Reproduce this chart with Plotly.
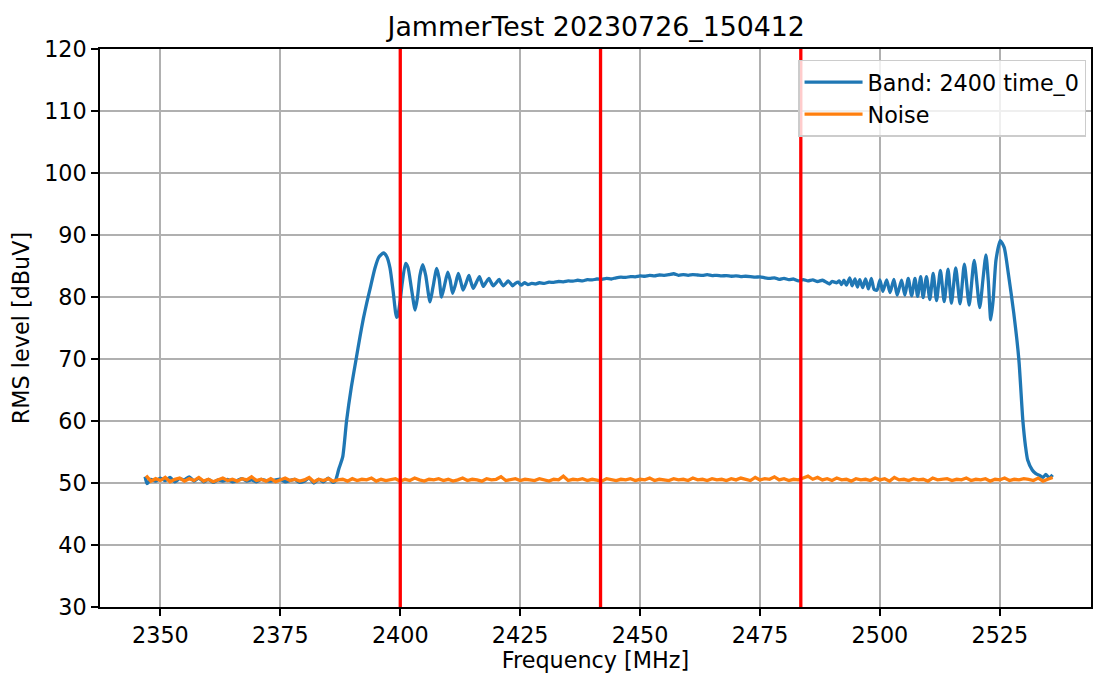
import numpy as np
import plotly.graph_objects as go

# ---------------- data ----------------
band_freq = [
    2346.8, 2347.2, 2348, 2349, 2350, 2351, 2352, 2353, 2354, 2355, 2356, 2357, 2358, 2359,
    2360, 2361, 2362, 2363, 2364, 2365, 2366, 2367, 2368, 2369, 2370, 2371, 2372, 2373, 2374,
    2375, 2376, 2377, 2378, 2379, 2380, 2381, 2382, 2383, 2384, 2385, 2386, 2386.5,
    2387.2, 2388.0, 2388.8, 2389.8, 2390.8, 2391.6, 2392.3, 2393.0, 2393.7, 2394.7, 2395.5,
    2396.5, 2397.2, 2397.85, 2398.5, 2399.0, 2399.25, 2399.5, 2400.0, 2400.4, 2401.1, 2401.6,
    2402.3, 2403.1, 2403.6, 2404.1, 2404.7, 2405.3, 2406.2, 2406.8, 2407.6, 2408.1, 2408.6,
    2409.2, 2409.9, 2410.4, 2410.9, 2411.5, 2412.1, 2412.6, 2413.1, 2413.7, 2414.3, 2414.7,
    2415.2, 2415.9, 2416.5, 2416.9, 2417.3, 2417.9, 2418.5, 2418.9, 2419.4, 2420.0, 2420.6,
    2421.0, 2421.5, 2422.0, 2422.5, 2423.0, 2423.4, 2424.0, 2424.6, 2425.2, 2425.9, 2426.6,
    2427.4, 2428.2, 2429, 2430, 2431, 2432, 2433, 2434, 2435, 2436, 2437, 2438, 2439, 2440,
    2441, 2442, 2443, 2444, 2445, 2446, 2447, 2448, 2449, 2450, 2451, 2452, 2453, 2454, 2455,
    2456, 2457, 2458, 2459, 2460, 2461, 2462, 2463, 2464, 2465, 2466, 2467, 2468, 2469, 2470,
    2471, 2472, 2473, 2474, 2475, 2476, 2477, 2478, 2479, 2480, 2481, 2482, 2483, 2484, 2485,
    2486, 2487, 2488, 2489, 2489.5, 2490, 2491, 2491.5, 2492, 2492.5, 2493, 2493.7, 2494.2,
    2494.8, 2495.3, 2495.8, 2496.4, 2497.0, 2497.6, 2498.2, 2498.8, 2499.4, 2500.0, 2500.6,
    2501.4, 2502.1, 2502.9, 2503.6, 2504.5, 2505.2, 2505.9, 2506.6, 2507.3, 2507.85, 2508.5,
    2509.0, 2509.7, 2510.4, 2511.1, 2511.8, 2512.6, 2513.4, 2514.2, 2514.9, 2515.8, 2516.7,
    2517.6, 2518.6, 2519.65, 2520.8, 2521.5, 2522.1, 2522.6, 2523.1, 2523.6, 2524.2, 2525.1,
    2525.9, 2526.8, 2527.9, 2528.95, 2529.8, 2530.35, 2530.8, 2531.75, 2532.5, 2533.3, 2534,
    2534.6, 2535.3, 2536,
]
band_level = [
    51.0, 49.9, 50.6, 50.3, 50.8, 50.4, 50.9, 50.2, 50.7, 50.5, 51.0, 50.3, 50.8, 50.2,
    50.6, 50.1, 50.5, 50.3, 50.6, 50.2, 50.4, 50.7, 50.3, 50.5, 50.2, 50.6, 50.4, 50.3, 50.5,
    50.6, 50.2, 50.4, 50.6, 50.1, 50.3, 50.8, 50.0, 50.6, 50.2, 50.8, 50.1, 50.4,
    52.3, 54.2, 60.0, 65.5, 70.0, 73.6, 76.5, 79.0, 81.3, 84.6, 86.4,
    87.1, 86.5, 84.7, 81.0, 77.6, 76.7, 77.0, 79.5, 82.2, 85.4, 84.8,
    81.5, 77.9, 80.0, 83.5, 85.2, 83.5, 79.2, 81.5, 84.6, 83.0, 80.0,
    81.8, 84.0, 82.7, 80.6, 82.0, 83.8, 82.5, 81.1, 82.2, 83.5, 82.5,
    81.4, 82.4, 83.3, 82.5, 81.7, 82.4, 83.0, 82.4, 81.8, 82.3, 82.85,
    82.3, 81.8, 82.2, 82.6, 82.2, 81.8, 82.2, 82.4, 81.9, 82.3, 82.0,
    82.2, 82.1, 82.3, 82.2, 82.4, 82.35, 82.5, 82.45, 82.6, 82.55, 82.7, 82.6, 82.8, 82.75,
    82.9, 82.85, 83.0, 82.9, 83.1, 83.2, 83.15, 83.3, 83.25, 83.4, 83.35, 83.5, 83.4, 83.55, 83.5,
    83.6, 83.75, 83.5, 83.6, 83.5, 83.6, 83.55, 83.5, 83.6, 83.45, 83.5, 83.4, 83.45, 83.35, 83.4,
    83.3, 83.35, 83.3, 83.2, 83.25, 83.1, 83.0, 83.1, 82.85, 83.0, 82.8, 82.9, 82.6, 82.8, 82.6,
    82.75, 82.5, 82.7, 82.3, 82.1, 82.5, 82.3, 82.6, 82.0, 82.7, 81.9, 83.1, 81.8,
    82.9, 81.6, 82.8, 81.5, 82.9, 81.3, 83.0, 81.2, 81.1, 82.75, 80.9,
    82.75, 80.7, 82.85, 80.3, 82.7, 80.3, 83.0, 80.2, 83.0, 80.1, 83.3,
    79.9, 83.3, 79.6, 83.8, 79.4, 84.3, 79.25, 84.5, 79.0, 84.7, 78.9,
    85.3, 78.7, 85.9, 78.3, 83.0, 86.8, 82.5, 76.3, 79.5, 86.0, 89.1,
    88.0, 83.6, 77.4, 70.0, 60.0, 55.9, 53.7, 52.1, 51.5, 51.2, 50.9,
    51.4, 50.8, 51.3,
]

noise_start_mhz = 2347
noise_step_mhz = 1
noise_level = [
    51.2, 50.3, 50.7, 50.4, 50.9, 50.2, 50.6, 50.8, 50.3, 50.7,
    50.4, 50.9, 50.3, 50.6, 50.2, 50.5, 50.8, 50.4, 50.6, 50.3,
    50.7, 50.5, 51.0, 50.4, 50.6, 50.3, 50.7, 50.2, 50.5, 50.8,
    50.4, 50.6, 50.3, 50.5, 50.9, 50.2, 50.6, 50.4, 50.7, 50.3,
    50.5, 50.6, 50.3, 50.7, 50.4, 50.6, 50.5, 50.8, 50.3, 50.6,
    50.4, 50.5, 50.7, 50.3, 50.6, 50.4, 50.8, 50.5, 50.3, 50.6,
    50.5, 50.7, 50.4, 50.6, 50.3, 50.5, 50.8, 50.4, 50.6, 50.5,
    50.3, 50.7, 50.5, 50.6, 51.0, 50.4, 50.5, 50.7, 50.4, 50.6,
    50.5, 50.4, 50.7, 50.5, 50.3, 50.6, 50.5, 51.1, 50.4, 50.6,
    50.5, 50.7, 50.4, 50.6, 50.5, 50.3, 50.7, 50.5, 50.4, 50.6,
    50.5, 50.7, 50.4, 50.6, 50.5, 50.8, 50.4, 50.6, 50.5, 50.4,
    50.7, 50.5, 50.6, 50.4, 50.8, 50.5, 50.6, 50.4, 50.7, 50.5,
    50.6, 50.4, 50.7, 50.5, 50.8, 50.6, 50.4, 50.9, 50.5, 50.7,
    50.6, 51.0, 50.5, 50.7, 50.4, 50.6, 50.5, 50.8, 51.1, 50.6,
    50.9, 50.5, 50.7, 50.4, 50.8, 50.5, 50.6, 50.3, 50.7, 50.5,
    50.6, 50.4, 50.8, 50.5, 50.7, 50.3, 50.9, 50.5, 50.6, 50.4,
    50.7, 50.5, 50.6, 50.3, 50.8, 50.5, 50.6, 50.7, 50.4, 50.6,
    50.5, 50.8, 50.4, 50.6, 50.5, 50.7, 50.3, 50.6, 50.5, 50.8,
    50.4, 50.6, 50.5, 50.7, 50.6, 50.4, 50.8, 50.3, 50.6, 50.9,
]
noise_freq = noise_start_mhz + noise_step_mhz * np.arange(len(noise_level))

marker_freqs = [2400.0, 2441.75, 2483.5]

x_ticks = [2350, 2375, 2400, 2425, 2450, 2475, 2500, 2525]
y_ticks = [30, 40, 50, 60, 70, 80, 90, 100, 110, 120]

title_text = "JammerTest 20230726_150412"
band_name = "Band: 2400 time_0"
noise_name = "Noise"
x_label = "Frequency [MHz]"
y_label = "RMS level [dBuV]"

# ---------------- figure ----------------
FONT = "DejaVu Sans"
fs = 22.3
lw = 3.3

fig = go.Figure()
fig.add_trace(go.Scatter(x=band_freq, y=band_level, mode="lines", name=band_name,
                         line=dict(color="#1f77b4", width=lw, shape="spline", smoothing=0.6)))
fig.add_trace(go.Scatter(x=noise_freq, y=noise_level, mode="lines", name=noise_name,
                         line=dict(color="#ff7f0e", width=lw)))

for f in marker_freqs:
    fig.add_shape(type="line", xref="x", yref="paper", x0=f, x1=f, y0=0, y1=1,
                  line=dict(color="red", width=lw), layer="above")

axis_common = dict(
    showline=True, linecolor="black", linewidth=1.7, mirror=True,
    ticks="outside", ticklen=7, tickwidth=1.7, tickcolor="black",
    showgrid=True, gridcolor="#b0b0b0", gridwidth=1.75,
    zeroline=False, tickfont=dict(family=FONT, size=fs, color="black"),
)

fig.update_layout(
    width=1093, height=673,
    margin=dict(l=100, r=2, t=49, b=66, autoexpand=False),
    paper_bgcolor="white", plot_bgcolor="white",
    font=dict(family=FONT, size=fs, color="black"),
    title=dict(text=title_text, x=0.5455, xanchor="center", y=0.96, yanchor="middle",
               font=dict(family=FONT, size=26.8, color="black")),
    xaxis=dict(range=[2337.4, 2544.0], tickvals=x_ticks,
               title=dict(text=x_label, standoff=6, font=dict(family=FONT, size=fs)),
               **axis_common),
    yaxis=dict(range=[30, 120], tickvals=y_ticks,
               title=dict(text=y_label, standoff=8, font=dict(family=FONT, size=fs)),
               **axis_common),
    legend=dict(x=0.995, xanchor="right", y=0.981, yanchor="top",
                bgcolor="rgba(255,255,255,0.8)", bordercolor="#cccccc", borderwidth=1.5,
                font=dict(family=FONT, size=fs, color="black"),
                itemwidth=58, tracegroupgap=0),
    showlegend=True,
)

fig.write_html("out.html")
